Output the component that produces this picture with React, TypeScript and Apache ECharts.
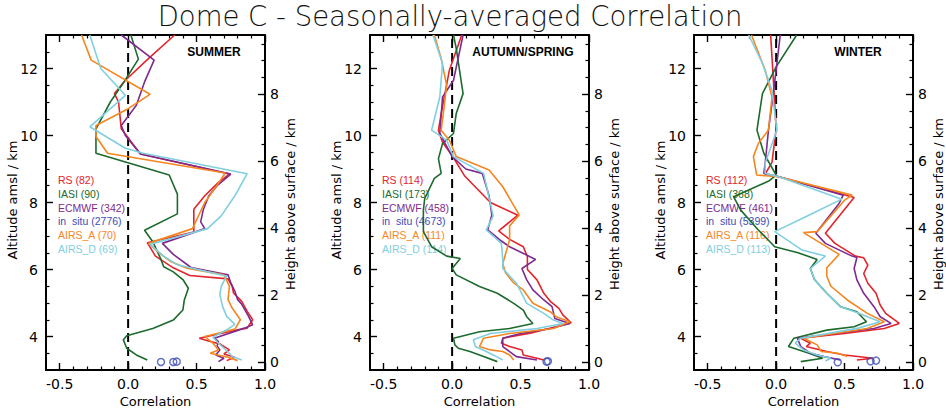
import React, { useEffect, useRef } from "react";
import * as echarts from "echarts";

const TITLE = "Dome C - Seasonally-averaged Correlation";
const seasonLabels = ["SUMMER", "AUTUMN/SPRING", "WINTER"];
const sourceNames = ["RS", "IASI", "ECMWF", "in  situ", "AIRS_A", "AIRS_D"];
const sourceColors = ["#e4232b", "#1c6a2c", "#7e2a8f", "#3c4db5", "#f5861f", "#80cfe0"];
const summerCounts = [82, 90, 342, 2776, 70, 69];
const autumnCounts = [114, 173, 458, 4673, 111, 114];
const winterCounts = [112, 368, 461, 5399, 116, 113];

const xTickLabels = [-0.5, 0.0, 0.5, 1.0];
const altTickLabels = [4, 6, 8, 10, 12];
const heightTickLabels = [0, 2, 4, 6, 8];
const SURFACE_ALT = 3.233;

// ---- SUMMER ----  [correlation, altitude km]
const summerRS = [[0.34,13.0],[0.15,12.3],[-0.02,11.65],[-0.1,11.25],[-0.07,11.0],[-0.05,10.2],[0.09,9.45],[0.74,8.85],[0.66,8.6],[0.56,8.2],[0.48,7.8],[0.48,7.12],[0.14,6.8],[0.2,6.4],[0.33,6.05],[0.45,5.82],[0.73,5.72],[0.76,5.5],[0.77,5.3],[0.83,5.05],[0.87,4.75],[0.91,4.5],[0.87,4.25],[0.8,4.2],[0.52,3.95],[0.6,3.85],[0.67,3.78],[0.74,3.6],[0.7,3.48],[0.78,3.38],[0.72,3.28]];
const summerIASI = [[0.02,13.0],[0.075,12.28],[-0.03,11.6],[-0.13,11.0],[-0.235,10.2],[-0.235,9.47],[0.3,8.82],[0.36,8.25],[0.36,7.66],[0.12,7.17],[0.18,6.83],[0.24,6.3],[0.26,6.08],[0.33,5.93],[0.4,5.7],[0.44,5.44],[0.41,5.08],[0.4,4.79],[0.33,4.49],[0.18,4.24],[-0.01,4.02],[-0.035,3.9],[-0.01,3.65],[0.06,3.45],[0.14,3.3]];
const summerECMWF = [[-0.05,13.0],[0.19,12.25],[0.12,11.6],[0.06,10.9],[-0.05,10.3],[-0.02,10.0],[0.09,9.45],[0.75,8.85],[0.65,8.5],[0.59,8.2],[0.55,7.8],[0.53,7.42],[0.56,7.22],[0.25,6.78],[0.33,6.45],[0.46,6.06],[0.73,5.84],[0.75,5.6],[0.78,5.35],[0.8,5.1],[0.83,4.96],[0.88,4.6],[0.91,4.35],[0.85,4.25],[0.63,3.95],[0.66,3.85],[0.65,3.72],[0.67,3.6],[0.64,3.45],[0.7,3.35],[0.66,3.25]];
const summerAIRSA = [[-0.34,13.0],[-0.27,12.25],[0.16,11.23],[0.0,10.8],[-0.235,10.3],[-0.235,9.97],[-0.15,9.47],[0.71,8.88],[0.63,8.4],[0.56,8.0],[0.47,7.22],[0.15,6.78],[0.24,6.45],[0.31,6.24],[0.43,6.04],[0.7,5.84],[0.74,5.5],[0.73,5.1],[0.76,4.85],[0.82,4.5],[0.78,4.22],[0.56,4.0],[0.62,3.8],[0.66,3.6],[0.6,3.5],[0.73,3.38],[0.8,3.28]];
const summerAIRSD = [[-0.28,13.0],[-0.2,12.0],[-0.02,11.2],[-0.28,10.26],[-0.02,9.62],[0.11,9.47],[0.87,8.86],[0.78,8.2],[0.68,7.6],[0.58,7.22],[0.16,6.75],[0.26,6.4],[0.36,6.14],[0.72,5.8],[0.68,5.5],[0.67,5.25],[0.69,4.9],[0.72,4.6],[0.78,4.36],[0.72,4.2],[0.62,3.98],[0.66,3.8],[0.7,3.65],[0.74,3.5],[0.76,3.4],[0.83,3.3]];
const summerInSitu = [[0.24,3.24],[0.33,3.24],[0.355,3.25]];

// ---- AUTUMN/SPRING ----
const autumnRS = [[0.07,13.0],[-0.02,11.95],[-0.08,10.65],[-0.1,10.15],[-0.07,9.8],[0.0,9.4],[0.09,8.8],[0.28,8.0],[0.48,7.62],[0.34,7.15],[0.42,6.9],[0.52,6.68],[0.55,6.38],[0.55,6.0],[0.62,5.69],[0.67,5.29],[0.72,5.04],[0.78,4.84],[0.81,4.64],[0.87,4.41],[0.76,4.29],[0.57,4.1],[0.37,3.95],[0.36,3.8],[0.42,3.7],[0.51,3.6],[0.52,3.45],[0.62,3.35],[0.67,3.3]];
const autumnIASI = [[0.01,13.0],[0.03,12.6],[0.08,11.25],[0.03,10.66],[0.01,10.06],[-0.07,9.76],[-0.1,9.31],[-0.08,8.87],[-0.13,8.72],[-0.2,8.12],[-0.21,7.78],[-0.21,7.13],[-0.15,6.68],[-0.04,6.4],[0.06,6.33],[0.0,6.03],[0.03,5.84],[0.2,5.49],[0.33,5.29],[0.45,4.99],[0.52,4.79],[0.545,4.59],[0.59,4.39],[0.42,4.24],[0.2,4.14],[0.01,3.95],[0.02,3.75],[0.045,3.65],[0.13,3.55],[0.23,3.4],[0.33,3.25]];
const autumnECMWF = [[0.08,13.0],[0.01,11.65],[-0.07,11.15],[-0.09,10.06],[0.0,9.37],[0.1,9.0],[0.22,8.87],[0.27,8.2],[0.29,7.63],[0.26,7.18],[0.36,6.85],[0.42,6.68],[0.61,6.3],[0.51,6.03],[0.545,5.69],[0.59,5.39],[0.67,5.09],[0.73,4.89],[0.75,4.54],[0.86,4.39],[0.72,4.24],[0.5,4.09],[0.37,3.95],[0.37,3.7],[0.42,3.55],[0.47,3.4],[0.62,3.3]];
const autumnAIRSA = [[-0.13,13.0],[-0.08,12.3],[-0.04,11.5],[-0.06,10.8],[-0.08,10.16],[-0.02,9.86],[0.03,9.37],[0.27,8.97],[0.37,8.47],[0.49,7.63],[0.42,7.3],[0.42,6.9],[0.4,6.6],[0.37,6.18],[0.39,5.9],[0.45,5.6],[0.52,5.39],[0.59,4.99],[0.715,4.74],[0.76,4.59],[0.86,4.44],[0.74,4.24],[0.42,4.09],[0.23,3.95],[0.2,3.7],[0.28,3.6],[0.37,3.55],[0.42,3.45],[0.45,3.3]];
const autumnAIRSD = [[-0.14,13.0],[-0.07,12.15],[-0.09,11.15],[-0.15,10.16],[-0.04,9.86],[0.01,9.37],[0.23,8.87],[0.3,7.6],[0.25,7.18],[0.36,6.78],[0.37,6.3],[0.37,6.03],[0.47,5.59],[0.545,4.99],[0.67,4.69],[0.74,4.49],[0.81,4.39],[0.62,4.24],[0.28,4.09],[0.155,3.9],[0.17,3.7],[0.25,3.55],[0.3,3.45],[0.325,3.4],[0.37,3.3]];
const autumnInSitu = [[0.69,3.25],[0.7,3.26]];

// ---- WINTER ----
const winterRS = [[-0.04,13.0],[-0.02,11.65],[0.0,10.2],[-0.03,9.2],[-0.08,8.85],[0.02,8.77],[0.57,8.15],[0.53,7.95],[0.36,7.08],[0.43,6.78],[0.58,6.4],[0.64,6.35],[0.67,6.13],[0.64,5.88],[0.67,5.59],[0.73,5.29],[0.76,4.94],[0.8,4.69],[0.9,4.39],[0.79,4.24],[0.5,4.09],[0.18,3.95],[0.25,3.8],[0.22,3.7],[0.37,3.55],[0.5,3.45],[0.71,3.35],[0.59,3.3]];
const winterIASI = [[0.15,13.0],[0.0,12.05],[-0.1,11.25],[-0.14,10.16],[-0.09,9.47],[0.0,8.82],[-0.05,8.65],[-0.31,8.17],[-0.26,7.78],[-0.13,7.18],[-0.01,6.68],[0.16,6.5],[0.3,6.3],[0.25,6.03],[0.28,5.7],[0.37,5.29],[0.47,4.89],[0.59,4.74],[0.66,4.44],[0.57,4.29],[0.37,4.19],[0.13,3.95],[0.09,3.7],[0.24,3.5],[0.34,3.35],[0.18,3.25]];
const winterECMWF = [[0.03,13.0],[0.0,11.95],[-0.03,10.96],[-0.056,10.16],[-0.08,9.17],[-0.09,8.87],[0.02,8.77],[0.49,8.22],[0.46,7.97],[0.29,7.08],[0.36,6.78],[0.555,6.4],[0.59,6.36],[0.57,6.03],[0.59,5.69],[0.64,5.29],[0.715,4.89],[0.76,4.59],[0.84,4.39],[0.715,4.24],[0.42,4.09],[0.155,3.95],[0.18,3.7],[0.25,3.5],[0.35,3.4],[0.47,3.3]];
const winterAIRSA = [[-0.18,13.0],[-0.08,11.95],[-0.03,11.15],[-0.056,10.16],[-0.13,9.76],[-0.166,9.37],[-0.142,8.82],[0.017,8.77],[0.555,8.22],[0.5,8.07],[0.3,7.13],[0.2,7.1],[0.46,6.45],[0.37,6.05],[0.37,5.8],[0.4,5.5],[0.52,5.09],[0.666,4.69],[0.79,4.44],[0.666,4.24],[0.42,4.09],[0.2,3.95],[0.3,3.75],[0.33,3.55],[0.45,3.5],[0.52,3.4]];
const winterAIRSD = [[-0.2,13.0],[-0.1,12.15],[-0.03,11.35],[0.005,10.16],[-0.08,9.17],[-0.08,8.87],[0.02,8.77],[0.48,8.1],[0.22,7.58],[-0.01,7.13],[0.19,6.58],[0.36,6.4],[0.25,6.03],[0.28,5.7],[0.37,5.29],[0.47,4.89],[0.6,4.7],[0.76,4.44],[0.6,4.25],[0.18,3.95],[0.14,3.8],[0.2,3.6],[0.3,3.45],[0.4,3.35],[0.36,3.27]];
const winterInSitu = [[0.45,3.23],[0.69,3.26],[0.73,3.28]];

const panelData = [
  { season: seasonLabels[0], counts: summerCounts, lines: [summerRS, summerIASI, summerECMWF, null, summerAIRSA, summerAIRSD], inSitu: summerInSitu },
  { season: seasonLabels[1], counts: autumnCounts, lines: [autumnRS, autumnIASI, autumnECMWF, null, autumnAIRSA, autumnAIRSD], inSitu: autumnInSitu },
  { season: seasonLabels[2], counts: winterCounts, lines: [winterRS, winterIASI, winterECMWF, null, winterAIRSA, winterAIRSD], inSitu: winterInSitu },
];

// layout (pixels)
const GRID_LEFT = [46, 370, 694];
const GRID_TOP = 35;
const GRID_W = 219;
const GRID_H = 335;
const SEASON_CX = [214, 523, 858];
const LEGEND_DX = 12;

function minorValues(from: number, to: number, step: number, skip: (v: number) => boolean) {
  const out: number[] = [];
  const n = Math.round((to - from) / step);
  for (let i = 0; i <= n; i++) {
    const v = Math.round((from + i * step) * 1000) / 1000;
    if (!skip(v)) out.push(v);
  }
  return out;
}

const FONT = "DejaVu Sans";

export default function App() {
  const ref = useRef<HTMLDivElement>(null);
  useEffect(() => {
    if (!ref.current) return;
    const chart = echarts.init(ref.current, null, { renderer: "svg" });

    const xMinor = minorValues(-0.5, 0.9, 0.1, (v) => Math.abs(v * 2 - Math.round(v * 2)) < 1e-6);
    const altMinor = minorValues(3.5, 12.5, 0.5, (v) => Math.abs(v / 2 - Math.round(v / 2)) < 1e-6);
    const hMinor = minorValues(0.5, 9.5, 0.5, (v) => Math.abs(v / 2 - Math.round(v / 2)) < 1e-6);

    const black = "#000";
    const grids: any[] = [];
    const xAxes: any[] = [];
    const yAxes: any[] = [];
    const series: any[] = [];
    const graphics: any[] = [];

    const tickLabel = { color: black, fontSize: 14, fontFamily: FONT };

    panelData.forEach((p, g) => {
      grids.push({ left: GRID_LEFT[g], top: GRID_TOP, width: GRID_W, height: GRID_H, containLabel: false });
      const xb = {
        type: "value", gridIndex: g, min: -0.6, max: 1.0, splitLine: { show: false },
        axisLine: { onZero: false, lineStyle: { color: black, width: 2 } },
      };
      xAxes.push(
        { ...xb, position: "bottom",
          axisLabel: { ...tickLabel, customValues: xTickLabels, margin: 7, formatter: (v: number) => v.toFixed(1) },
          axisTick: { inside: true, length: 7, customValues: xTickLabels, lineStyle: { color: black, width: 1.4 } } },
        { ...xb, position: "bottom", axisLine: { show: false, onZero: false }, axisLabel: { show: false },
          axisTick: { inside: true, length: 3.5, customValues: xMinor, lineStyle: { color: black, width: 1.2 } } },
        { ...xb, position: "top", axisLabel: { show: false },
          axisTick: { inside: true, length: 7, customValues: xTickLabels, lineStyle: { color: black, width: 1.4 } } },
        { ...xb, position: "top", axisLine: { show: false, onZero: false }, axisLabel: { show: false },
          axisTick: { inside: true, length: 3.5, customValues: xMinor, lineStyle: { color: black, width: 1.2 } } },
      );
      const yl = {
        type: "value", gridIndex: g, min: 3, max: 13, splitLine: { show: false },
        axisLine: { onZero: false, lineStyle: { color: black, width: 2 } },
      };
      const yr = { ...yl, min: -SURFACE_ALT + 3, max: 13 - SURFACE_ALT };
      yAxes.push(
        { ...yl, position: "left",
          axisLabel: { ...tickLabel, customValues: altTickLabels, margin: 8 },
          axisTick: { inside: true, length: 7, customValues: altTickLabels, lineStyle: { color: black, width: 1.4 } } },
        { ...yl, position: "left", axisLine: { show: false, onZero: false }, axisLabel: { show: false },
          axisTick: { inside: true, length: 3.5, customValues: altMinor, lineStyle: { color: black, width: 1.2 } } },
        { ...yr, position: "right",
          axisLabel: { ...tickLabel, customValues: heightTickLabels, margin: 5 },
          axisTick: { inside: true, length: 7, customValues: heightTickLabels, lineStyle: { color: black, width: 1.4 } } },
        { ...yr, position: "right", axisLine: { show: false, onZero: false }, axisLabel: { show: false },
          axisTick: { inside: true, length: 3.5, customValues: hMinor, lineStyle: { color: black, width: 1.2 } } },
      );

      const xi = 4 * g;
      const yi = 4 * g;
      series.push({
        type: "line", xAxisIndex: xi, yAxisIndex: yi, data: [[0, 3], [0, 13]], showSymbol: false, silent: true,
        lineStyle: { color: black, width: 2, type: [9, 5] }, z: 1,
      });
      p.lines.forEach((d, k) => {
        if (!d) return;
        series.push({
          type: "line", name: sourceNames[k], xAxisIndex: xi, yAxisIndex: yi, data: d,
          showSymbol: false, clip: true, silent: true, z: 2,
          lineStyle: { color: sourceColors[k], width: 1.6 },
        });
      });
      series.push({
        type: "scatter", name: sourceNames[3], xAxisIndex: xi, yAxisIndex: yi, data: p.inSitu,
        symbol: "circle", symbolSize: 7, silent: true, z: 3,
        itemStyle: { color: "rgba(0,0,0,0)", borderColor: sourceColors[3], borderWidth: 1.5 },
      });

      const left = GRID_LEFT[g];
      const right = left + GRID_W;
      graphics.push({
        type: "text", x: SEASON_CX[g], y: 52,
        style: { text: p.season, fill: black, font: `bold 12px "Liberation Sans"`, textAlign: "center", textVerticalAlign: "middle", align: "center", verticalAlign: "middle" },
      });
      sourceNames.forEach((nm, k) => {
        graphics.push({
          type: "text", x: left + LEGEND_DX, y: 180 + k * 13.8,
          style: { text: `${nm} (${p.counts[k]})`, fill: sourceColors[k], font: `10.5px "Liberation Sans"`, textAlign: "left", textVerticalAlign: "middle", align: "left", verticalAlign: "middle" },
        });
      });
      graphics.push({
        type: "text", x: left - 34, y: 200, rotation: Math.PI / 2,
        style: { text: "Altitude amsl / km", fill: black, font: `13px "${FONT}"`, textAlign: "center", textVerticalAlign: "middle", align: "center", verticalAlign: "middle" },
      });
      graphics.push({
        type: "text", x: right + 25, y: 204, rotation: Math.PI / 2,
        style: { text: "Height above surface / km", fill: black, font: `13px "${FONT}"`, textAlign: "center", textVerticalAlign: "middle", align: "center", verticalAlign: "middle" },
      });
      graphics.push({
        type: "text", x: left + GRID_W / 2, y: 401,
        style: { text: "Correlation", fill: black, font: `13px "${FONT}"`, textAlign: "center", textVerticalAlign: "middle", align: "center", verticalAlign: "middle" },
      });
    });

    graphics.push({
      type: "text", x: 450, y: 16,
      style: { text: TITLE, fill: "#111", font: `200 27.5px "${FONT}"`, textAlign: "center", textVerticalAlign: "middle", align: "center", verticalAlign: "middle" },
    });

    chart.setOption({
      animation: false,
      backgroundColor: "#fff",
      grid: grids,
      xAxis: xAxes,
      yAxis: yAxes,
      series,
      graphic: graphics,
    });
    return () => chart.dispose();
  }, []);
  return <div ref={ref} style={{ position: "absolute", left: 0, top: 0, width: 946, height: 409 }} />;
}
